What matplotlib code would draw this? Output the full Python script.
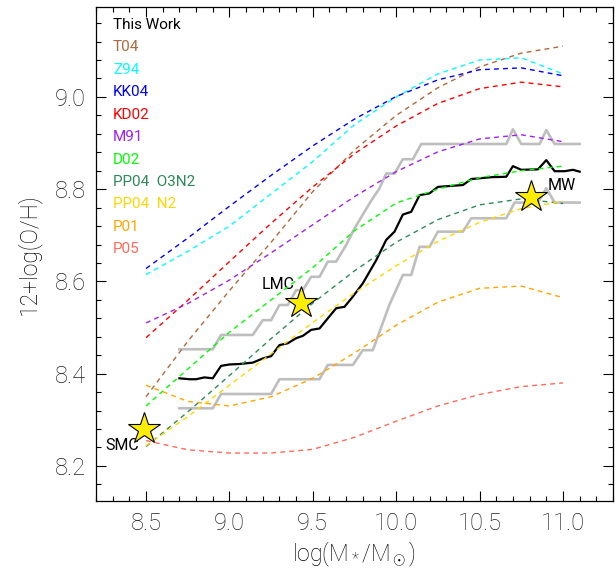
import numpy as np
import matplotlib
matplotlib.use('Agg')
import matplotlib.pyplot as plt
from matplotlib.ticker import MultipleLocator

plt.rcParams['font.family'] = ['Roboto', 'DejaVu Sans']
plt.rcParams['font.weight'] = 'light'
plt.rcParams['axes.labelweight'] = 'light'
plt.rcParams['mathtext.fontset'] = 'custom'
plt.rcParams['mathtext.rm'] = 'Roboto:light'
plt.rcParams['mathtext.it'] = 'Roboto:light'

# mass grid for the calibration curves
mass = [8.5, 8.75, 9.0, 9.25, 9.5, 9.75, 10.0, 10.25, 10.5, 10.75, 11.0]

t04  = [8.35, 8.47, 8.58, 8.685, 8.795, 8.885, 8.96, 9.02, 9.065, 9.095, 9.11]
z94  = [8.615, 8.665, 8.72, 8.79, 8.86, 8.94, 9.00, 9.05, 9.08, 9.085, 9.05]
kk04 = [8.628, 8.694, 8.763, 8.830, 8.894, 8.952, 9.001, 9.037, 9.059, 9.063, 9.046]
kd02 = [8.478, 8.559, 8.643, 8.726, 8.805, 8.877, 8.937, 8.986, 9.018, 9.032, 9.022]
m91  = [8.510, 8.552, 8.603, 8.662, 8.723, 8.784, 8.838, 8.881, 8.909, 8.918, 8.903]
d02  = [8.33, 8.41, 8.49, 8.56, 8.63, 8.71, 8.77, 8.80, 8.825, 8.84, 8.85]
pp04_o3n2 = [8.242, 8.317, 8.396, 8.476, 8.553, 8.623, 8.685, 8.734, 8.766, 8.779, 8.769]
pp04_n2   = [8.244, 8.307, 8.375, 8.443, 8.511, 8.575, 8.634, 8.687, 8.728, 8.758, 8.774]
p01  = [8.375, 8.34, 8.33, 8.35, 8.39, 8.445, 8.505, 8.555, 8.585, 8.59, 8.565]
p05  = [8.255, 8.235, 8.228, 8.228, 8.236, 8.262, 8.297, 8.33, 8.355, 8.372, 8.38]

# this work: median and 1-sigma envelope
tw_x = [8.70, 8.76, 8.80, 8.85, 8.90, 8.95, 9.00, 9.06, 9.14, 9.20, 9.25, 9.30,
        9.35, 9.40, 9.44, 9.49, 9.54, 9.59, 9.64, 9.69, 9.74, 9.80, 9.88, 9.94,
        9.99, 10.04, 10.09, 10.14, 10.20, 10.25, 10.40, 10.45, 10.57, 10.66,
        10.70, 10.75, 10.85, 10.90, 10.95, 11.01, 11.06, 11.10]
tw_y = [8.390, 8.388, 8.388, 8.392, 8.390, 8.417, 8.420, 8.421, 8.424, 8.433,
        8.438, 8.462, 8.466, 8.477, 8.482, 8.495, 8.498, 8.520, 8.542, 8.545,
        8.567, 8.596, 8.646, 8.690, 8.708, 8.745, 8.751, 8.787, 8.791, 8.805,
        8.809, 8.822, 8.826, 8.827, 8.850, 8.842, 8.843, 8.863, 8.839, 8.839,
        8.842, 8.838]

up_x = [8.70, 8.90, 8.95, 9.14, 9.20, 9.25, 9.30, 9.35, 9.40, 9.44, 9.49, 9.54,
        9.59, 9.64, 9.70, 9.75, 9.80, 9.85, 9.90, 9.94, 9.99, 10.04, 10.10,
        10.15, 10.66, 10.70, 10.75, 10.86, 10.90, 10.95, 11.10]
up_y = [8.453, 8.453, 8.484, 8.484, 8.516, 8.516, 8.549, 8.549, 8.581, 8.581,
        8.610, 8.610, 8.643, 8.643, 8.679, 8.715, 8.745, 8.775, 8.802, 8.834,
        8.834, 8.865, 8.865, 8.898, 8.898, 8.930, 8.898, 8.898, 8.928, 8.898,
        8.898]

lo_x = [8.70, 8.90, 8.95, 9.25, 9.30, 9.54, 9.59, 9.74, 9.80, 9.86, 9.96,
        10.04, 10.09, 10.14, 10.20, 10.25, 10.40, 10.45, 10.66, 10.71, 10.85,
        10.90, 10.95, 11.10]
lo_y = [8.325, 8.325, 8.356, 8.356, 8.388, 8.388, 8.419, 8.419, 8.451, 8.451,
        8.550, 8.614, 8.614, 8.675, 8.675, 8.708, 8.708, 8.737, 8.737, 8.771,
        8.771, 8.802, 8.771, 8.771]

# local galaxies
gal_names = ['SMC', 'LMC', 'MW']
gal_mass = [8.49, 9.43, 10.81]
gal_oh = [8.28, 8.553, 8.784]

curves = [('T04', t04, '#b0683c'), ('Z94', z94, '#00ffff'), ('KK04', kk04, '#0000ff'),
          ('KD02', kd02, '#ff0000'), ('M91', m91, '#a020f0'), ('D02', d02, '#00ff00'),
          ('PP04  O3N2', pp04_o3n2, '#2e8b57'), ('PP04  N2', pp04_n2, '#ffd700'),
          ('P01', p01, '#ffa500'), ('P05', p05, '#ff6a5a')]

fig = plt.figure(figsize=(6.16, 5.71), dpi=100)
ax = fig.add_axes([96/616, 70/571, 517/616, 494/571])

ax.plot(up_x, up_y, color='#bebebe', lw=1.9, zorder=2)
ax.plot(lo_x, lo_y, color='#bebebe', lw=1.9, zorder=2)
ax.plot(tw_x, tw_y, color='black', lw=1.6, zorder=3)

for name, vals, col in curves:
    ax.plot(mass, vals, color=col, lw=1.0, ls=(0, (3.5, 3)), zorder=4)

ax.plot(gal_mass, gal_oh, ls='none', marker='*', ms=24, mfc='#ffee00',
        mec='black', mew=0.8, zorder=5)
ax.text(gal_mass[0] - 0.03, gal_oh[0] - 0.035, gal_names[0], ha='right', va='center',
        fontsize=11.5, fontweight='normal')
ax.text(gal_mass[1] - 0.04, gal_oh[1] + 0.04, gal_names[1], ha='right', va='center',
        fontsize=11.5, fontweight='normal')
ax.text(gal_mass[2] + 0.1, gal_oh[2] + 0.025, gal_names[2], ha='left', va='center',
        fontsize=11.5, fontweight='normal')

# legend as coloured text
ax.text(0.033, 0.9636, 'This Work', transform=ax.transAxes, color='black',
        fontsize=11, va='center', fontweight='normal')
for i, (name, vals, col) in enumerate(curves):
    ax.text(0.033, 0.9636 - 0.0454 * (i + 1), name, transform=ax.transAxes,
            color=col, fontsize=11, va='center', fontweight='normal')

ax.set_xlim(8.2, 11.3)
ax.set_ylim(8.124, 9.195)
ax.xaxis.set_major_locator(MultipleLocator(0.5))
ax.xaxis.set_minor_locator(MultipleLocator(0.1))
ax.yaxis.set_major_locator(MultipleLocator(0.2))
ax.yaxis.set_minor_locator(MultipleLocator(0.04))
ax.xaxis.set_major_formatter(plt.FormatStrFormatter('%.1f'))
ax.yaxis.set_major_formatter(plt.FormatStrFormatter('%.1f'))
ax.tick_params(which='both', direction='in', top=True, right=True, width=0.8)
ax.tick_params(which='major', length=7, labelsize=17, labelcolor='#222222')
ax.tick_params(which='minor', length=3.5)
ax.tick_params(axis='x', pad=8)
ax.tick_params(axis='y', pad=7)
for s in ax.spines.values():
    s.set_linewidth(0.9)

ax.set_xlabel(r'log(M$_*$/M$_\odot$)', fontsize=16.5, labelpad=3)
ax.set_ylabel('12+log(O/H)', fontsize=16.5, labelpad=10)

fig.savefig('out.png', dpi=100)
